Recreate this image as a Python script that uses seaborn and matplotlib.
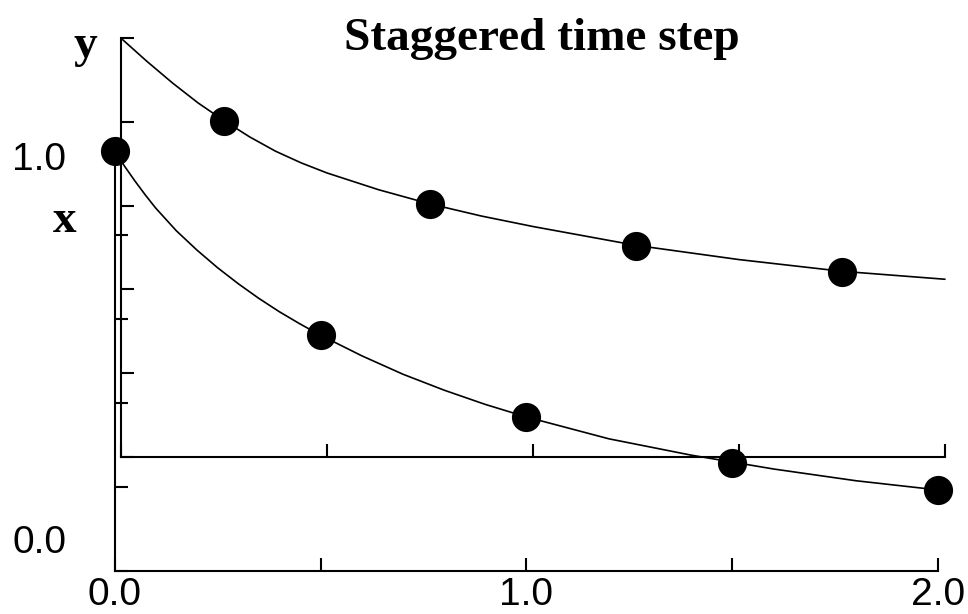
import numpy as np
import matplotlib
matplotlib.use("Agg")
import matplotlib.pyplot as plt
import seaborn as sns

# Exact solution curves
t_curve_x = [0.0, 0.025, 0.05, 0.075, 0.1, 0.15, 0.2, 0.25, 0.3, 0.35, 0.4,
             0.45, 0.5, 0.6, 0.7, 0.8, 0.9, 1.0, 1.2, 1.4, 1.6, 1.8, 2.0]
x_curve = [1.0, 0.963, 0.928, 0.895, 0.864, 0.810, 0.764, 0.722, 0.684,
           0.649, 0.617, 0.588, 0.561, 0.512, 0.468, 0.430, 0.396, 0.366,
           0.314, 0.275, 0.242, 0.214, 0.192]

t_curve_y = [0.0, 0.0625, 0.125, 0.1875, 0.25, 0.3125, 0.375, 0.4375, 0.5,
             0.625, 0.75, 0.875, 1.0, 1.25, 1.5, 1.75, 2.0]
y_curve = [1.0, 0.945, 0.893, 0.845, 0.803, 0.764, 0.730, 0.702, 0.678,
           0.638, 0.604, 0.575, 0.550, 0.505, 0.471, 0.443, 0.424]

# Staggered time step points (x on full steps, y on half steps)
t_x_pts = [0.0, 0.5, 1.0, 1.5, 2.0]
x_pts = [1.0, 0.561, 0.365, 0.256, 0.192]
t_y_pts = [0.25, 0.75, 1.25, 1.75]
y_pts = [0.802, 0.604, 0.503, 0.441]

x_ticks = [0.0, 0.5, 1.0, 1.5, 2.0]
x_ticklabels = ["0.0", "", "1.0", "", "2.0"]
v_ticks = [0.0, 0.2, 0.4, 0.6, 0.8, 1.0]

sns.set_theme(style="white")
plt.rcParams["font.family"] = ["Liberation Sans", "DejaVu Sans"]
plt.rcParams["text.color"] = "black"
plt.rcParams["xtick.color"] = "black"
plt.rcParams["ytick.color"] = "black"

fig = plt.figure(figsize=(9.68, 6.14), dpi=100)

# x axes (lower) and y axes (shifted up and right)
ax_x = fig.add_axes([0.1183, 0.0708, 0.8512, 0.6832])
ax_y = fig.add_axes([0.1250, 0.2562, 0.8512, 0.6816])
ax_y.set_facecolor("none")

for ax in (ax_x, ax_y):
    ax.set_xlim(0, 2)
    ax.set_ylim(0, 1)
    sns.despine(ax=ax)
    for side in ("left", "bottom"):
        ax.spines[side].set_color("black")
        ax.spines[side].set_linewidth(1.5)
    ax.set_xticks(x_ticks)
    ax.set_yticks(v_ticks)
    ax.tick_params(bottom=True, left=True, direction="in", length=9.5,
                   width=1.5, color="black", labelcolor="black",
                   labelsize=28, pad=5)
    ax.set_yticklabels([])

ax_x.set_xticklabels(x_ticklabels)
ax_y.set_xticklabels([])

sns.lineplot(x=t_curve_x, y=x_curve, ax=ax_x, color="black", linewidth=1.2)
sns.lineplot(x=t_curve_y, y=y_curve, ax=ax_y, color="black", linewidth=1.2)
for ax in (ax_x, ax_y):
    for line in ax.lines:
        line.set_clip_on(False)

sns.scatterplot(x=t_x_pts, y=x_pts, ax=ax_x, s=441, color="black",
                linewidth=0, zorder=5, clip_on=False)
sns.scatterplot(x=t_y_pts, y=y_pts, ax=ax_y, s=441, color="black",
                linewidth=0, zorder=5, clip_on=False)

ax_x.set_xlabel("")
ax_x.set_ylabel("")
ax_y.set_xlabel("")
ax_y.set_ylabel("")

# value labels on the x axis
ax_x.annotate("1.0", xy=(0, 1.0), xycoords=("axes fraction", "data"),
              xytext=(-34.9, -13.7), textcoords="offset points",
              ha="right", va="baseline", fontsize=28, color="black")
ax_x.annotate("0.0", xy=(0, 0.0), xycoords=("axes fraction", "data"),
              xytext=(-34.9, 12.6), textcoords="offset points",
              ha="right", va="baseline", fontsize=28, color="black")

serif = ["Liberation Serif", "DejaVu Serif"]
fig.text(541.5 / 968, 1 - 50 / 614, "Staggered time step", ha="center",
         va="baseline", family=serif, weight="bold", fontsize=34,
         color="black")
fig.text(85.5 / 968, 1 - 57 / 614, "y", ha="center", va="baseline",
         family=serif, weight="bold", fontsize=34, color="black")
fig.text(64.5 / 968, 1 - 232 / 614, "x", ha="center", va="baseline",
         family=serif, weight="bold", fontsize=34, color="black")

fig.savefig("out.png", dpi=100)
